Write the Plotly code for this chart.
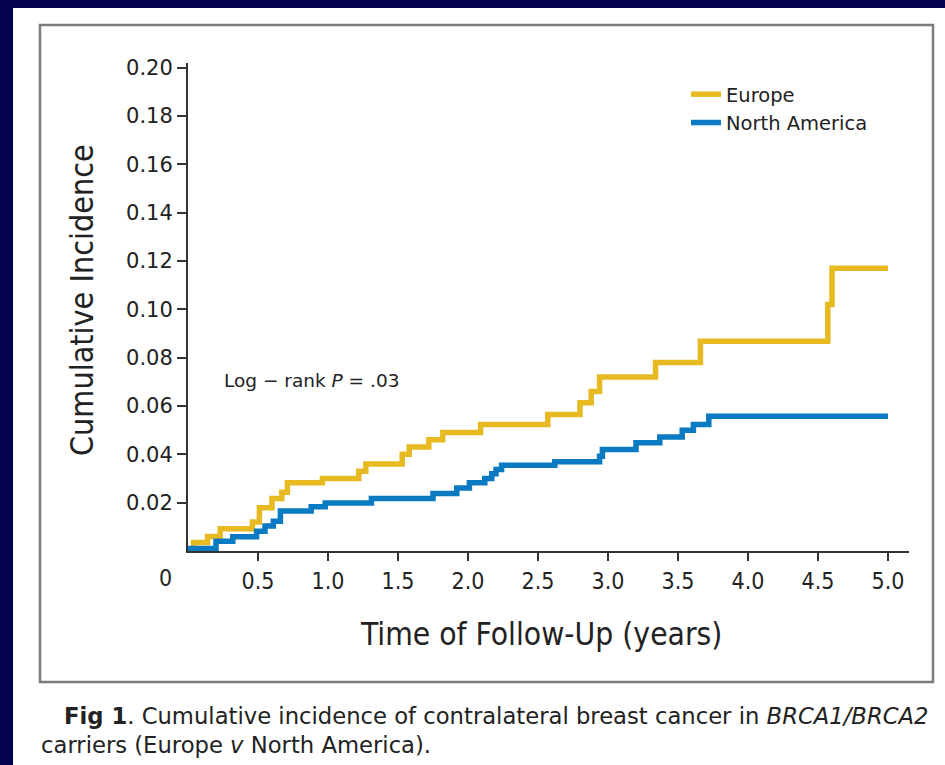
import plotly.graph_objects as go

# ---- data ----
europe_t = [0.0, 0.04, 0.14, 0.23, 0.46, 0.51, 0.60, 0.67, 0.71, 0.96, 1.22, 1.27,
            1.53, 1.58, 1.72, 1.82, 2.09, 2.57, 2.80, 2.88, 2.94, 3.34, 3.66, 4.57,
            4.60, 5.0]
europe_v = [0.0, 0.0035, 0.006, 0.0092, 0.012, 0.0179, 0.0217, 0.0243, 0.0282, 0.030,
            0.033, 0.036, 0.040, 0.043, 0.046, 0.049, 0.0523, 0.0565, 0.0613, 0.066,
            0.072, 0.078, 0.0868, 0.102, 0.117, 0.117]

na_t = [0.0, 0.20, 0.32, 0.49, 0.55, 0.61, 0.66, 0.88, 0.98, 1.31, 1.75, 1.92, 2.01,
        2.12, 2.17, 2.20, 2.24, 2.62, 2.94, 2.96, 3.20, 3.37, 3.53, 3.61, 3.72, 5.0]
na_v = [0.001, 0.004, 0.0059, 0.0082, 0.0103, 0.0123, 0.0165, 0.0183, 0.0199, 0.0217,
        0.0238, 0.0261, 0.0282, 0.030, 0.032, 0.0337, 0.0355, 0.0369, 0.0392, 0.042,
        0.0448, 0.0472, 0.050, 0.0523, 0.0558, 0.0558]

series_names = ["Europe", "North America"]
x_tick_vals = [0.5, 1.0, 1.5, 2.0, 2.5, 3.0, 3.5, 4.0, 4.5, 5.0]
x_tick_text = ["0.5", "1.0", "1.5", "2.0", "2.5", "3.0", "3.5", "4.0", "4.5", "5.0"]
y_tick_vals = [0.02, 0.04, 0.06, 0.08, 0.10, 0.12, 0.14, 0.16, 0.18, 0.20]
y_tick_text = ["0.02", "0.04", "0.06", "0.08", "0.10", "0.12", "0.14", "0.16", "0.18", "0.20"]

# ---- geometry ----
W, H = 945, 765
L, R, T, B = 188, 909, 63, 551


def px(x):
    return (x - L) / (R - L)


def py(y):
    return (B - y) / (B - T)


NAVY = "#02024F"
GOLD = "#E8BA22"
BLUE = "#0A7BC2"
INK = "#222222"
COND = "DejaVu Sans Condensed, DejaVu Sans, sans-serif"
SANS = "DejaVu Sans, sans-serif"

fig = go.Figure()
fig.add_trace(go.Scatter(x=europe_t, y=europe_v, mode="lines", line_shape="hv",
                         name=series_names[0], line=dict(color=GOLD, width=5.5)))
fig.add_trace(go.Scatter(x=na_t, y=na_v, mode="lines", line_shape="hv",
                         name=series_names[1], line=dict(color=BLUE, width=5.5)))

shapes = [
    # navy strips
    dict(type="rect", xref="paper", yref="paper", x0=px(0), x1=px(W), y0=py(0), y1=py(8),
         fillcolor=NAVY, line=dict(width=0), layer="below"),
    dict(type="rect", xref="paper", yref="paper", x0=px(0), x1=px(13), y0=py(0), y1=py(H),
         fillcolor=NAVY, line=dict(width=0), layer="below"),
    # frame
    dict(type="rect", xref="paper", yref="paper", x0=px(40), x1=px(933), y0=py(25), y1=py(682),
         fillcolor="rgba(0,0,0,0)", line=dict(color="#7c7c7c", width=2.5), layer="below"),
]

annotations = [
    dict(text="0", xref="paper", yref="paper", x=px(165), y=py(578), showarrow=False,
         font=dict(family=COND, size=23, color=INK), xanchor="center", yanchor="middle"),
    dict(text="Cumulative Incidence", xref="paper", yref="paper", x=px(82), y=py(300),
         showarrow=False, textangle=-90, font=dict(family=COND, size=32, color=INK),
         xanchor="center", yanchor="middle"),
    dict(text="Time of Follow-Up (years)", xref="paper", yref="paper", x=px(541), y=py(634),
         showarrow=False, font=dict(family=COND, size=31.5, color=INK),
         xanchor="center", yanchor="middle"),
    dict(text="Log \u2212 rank <i>P</i> = .03", xref="paper", yref="paper", x=px(222), y=py(380),
         showarrow=False, font=dict(family=SANS, size=18.5, color=INK),
         xanchor="left", yanchor="middle"),
    dict(text="<b>Fig 1</b>. Cumulative incidence of contralateral breast cancer in <i>BRCA1/BRCA2</i>",
         xref="paper", yref="paper", x=px(62), y=py(716), showarrow=False,
         font=dict(family=SANS, size=22.7, color=INK), xanchor="left", yanchor="middle"),
    dict(text="carriers (Europe <i>v</i> North America).",
         xref="paper", yref="paper", x=px(39), y=py(745), showarrow=False,
         font=dict(family=SANS, size=22.7, color=INK), xanchor="left", yanchor="middle"),
]

fig.update_layout(
    width=W, height=H,
    margin=dict(l=L, r=W - R, t=T, b=H - B, pad=0),
    paper_bgcolor="white", plot_bgcolor="white",
    shapes=shapes, annotations=annotations,
    showlegend=True,
    legend=dict(x=px(686), y=py(75), xanchor="left", yanchor="top",
                bgcolor="rgba(0,0,0,0)", borderwidth=0,
                font=dict(family=SANS, size=19.5, color=INK), tracegroupgap=0),
    xaxis=dict(range=[0, 5.15], tickvals=x_tick_vals, ticktext=x_tick_text,
               showgrid=False, zeroline=False, showline=True, linecolor="#333333",
               linewidth=2, ticks="outside", ticklen=8, tickwidth=1.5, tickcolor="#333333",
               tickfont=dict(family=COND, size=23, color=INK), layer="below traces"),
    yaxis=dict(range=[0, 0.2019], tickvals=y_tick_vals, ticktext=y_tick_text,
               showgrid=False, zeroline=False, showline=True, linecolor="#333333",
               linewidth=2, ticks="outside", ticklen=9, tickwidth=1.5, tickcolor="#333333",
               tickfont=dict(family=SANS, size=21, color=INK), layer="below traces"),
)

fig.write_html(
    "out.html",
    config={"displayModeBar": False},
    post_script="document.body.style.margin='0';document.body.style.padding='0';"
                "document.body.style.overflow='hidden';",
)
